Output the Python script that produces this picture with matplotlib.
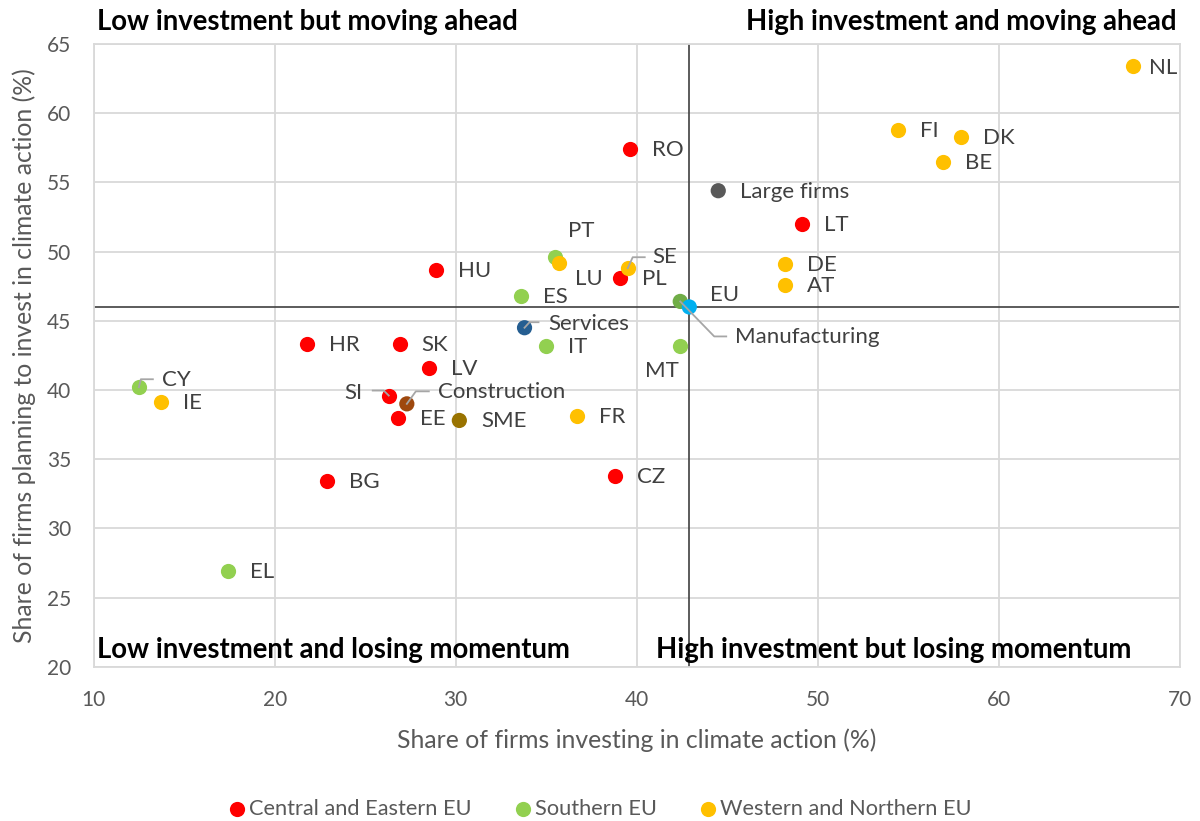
"""
Climate investment quadrant chart: share of firms investing vs. planning to invest
"""
import matplotlib
matplotlib.use('Agg')
from matplotlib import pyplot as plt
from matplotlib.lines import Line2D
from matplotlib.transforms import IdentityTransform

plt.rcParams['font.family'] = ['Lato', 'DejaVu Sans']

# --- data ---
cee_names = ['RO', 'LT', 'PL', 'HU', 'HR', 'SK', 'LV', 'SI', 'EE', 'BG', 'CZ']
cee_x = [39.6, 49.1, 39.1, 28.9, 21.8, 26.9, 28.5, 26.3, 26.8, 22.9, 38.8]
cee_y = [57.4, 52.0, 48.1, 48.7, 43.3, 43.3, 41.6, 39.6, 38.0, 33.4, 33.8]

south_names = ['PT', 'ES', 'IT', 'MT', 'CY', 'EL']
south_x = [35.5, 33.6, 35.0, 42.4, 12.5, 17.4]
south_y = [49.6, 46.8, 43.2, 43.2, 40.2, 26.9]

west_names = ['NL', 'FI', 'DK', 'BE', 'DE', 'AT', 'SE', 'LU', 'FR', 'IE']
west_x = [67.4, 54.4, 57.9, 56.9, 48.2, 48.2, 39.5, 35.7, 36.7, 13.7]
west_y = [63.4, 58.8, 58.3, 56.5, 49.1, 47.6, 48.8, 49.2, 38.1, 39.1]

other_names = ['Large firms', 'Services', 'Construction', 'SME', 'Manufacturing', 'EU']
other_x = [44.5, 33.8, 27.3, 30.2, 42.4, 42.9]
other_y = [54.4, 44.5, 39.0, 37.8, 46.4, 46.0]
other_colors = ['#595959', '#255E91', '#9E480E', '#997300', '#70AD47', '#00B0F0']

eu_x, eu_y = other_x[-1], other_y[-1]

# --- label placement (pixel offsets from the marker, y up) ---
default_off = (22, -1, 'left')
label_off = {
    'SE': (25, 11, 'left'),
    'LU': (16, -16, 'left'),
    'PT': (13, 26, 'left'),
    'Services': (24, 4, 'left'),
    'MT': (-35, -25, 'left'),
    'EU': (21, 12, 'left'),
    'Manufacturing': (55, -36, 'left'),
    'CY': (23, 7, 'left'),
    'SI': (-26, 3, 'right'),
    'Construction': (31, 12, 'left'),
    'NL': (16, -2, 'left'),
}
# leader lines: knee and end, pixel offsets from the marker
leaders = {
    'SE': [(5, 11), (17, 11)],
    'CY': [(2, 8), (14, 8)],
    'SI': [(-5, 5), (-16, 5)],
    'Construction': [(9, 12.5), (22, 12.5)],
    'Services': [(5, 5.5), (14, 5.5)],
    'Manufacturing': [(34, -35), (46, -35)],
}

RED = '#FF0000'
GREEN = '#92D050'
YELLOW = '#FFC000'
GRID = '#D9D9D9'
TXT = '#595959'
LBL = '#404040'

W, H = 1200, 821
fig = plt.figure(figsize=(W / 100, H / 100), dpi=100)
ax = fig.add_axes([0.078, 0.1878, 0.9053, 0.7586])

ax.set_xlim(10, 70)
ax.set_ylim(20, 65)
ax.set_xticks(range(10, 71, 10))
ax.set_yticks(range(20, 66, 5))
ax.grid(color=GRID, lw=1.3, zorder=0)
ax.set_axisbelow(True)
for sp in ax.spines.values():
    sp.set_color(GRID)
    sp.set_linewidth(1.3)
ax.tick_params(length=0, labelcolor=TXT, labelsize=15)
ax.tick_params(axis='x', pad=17)
ax.tick_params(axis='y', pad=16)

ax.axvline(eu_x, color='#404040', lw=1.2, zorder=1)
ax.axhline(eu_y, color='#404040', lw=1.2, zorder=1)

ms = 120
ax.scatter(cee_x, cee_y, s=ms, color=RED, lw=0, zorder=3, label='Central and Eastern EU')
ax.scatter(south_x, south_y, s=ms, color=GREEN, lw=0, zorder=3, label='Southern EU')
ax.scatter(west_x, west_y, s=ms, color=YELLOW, lw=0, zorder=3, label='Western and Northern EU')
ax.scatter(other_x, other_y, s=ms, color=other_colors, lw=0, zorder=3)

all_names = cee_names + south_names + west_names + other_names
all_x = cee_x + south_x + west_x + other_x
all_y = cee_y + south_y + west_y + other_y

for name, x, y in zip(all_names, all_x, all_y):
    dx, dy, ha = label_off.get(name, default_off)
    ax.annotate(name, (x, y), xytext=(dx, dy), textcoords='offset pixels',
                ha=ha, va='center', fontsize=16, color=LBL, zorder=5)

# leader lines drawn in display pixels
for name, pts in leaders.items():
    i = all_names.index(name)
    px, py = ax.transData.transform((all_x[i], all_y[i]))
    xs = [px] + [px + p[0] for p in pts]
    ys = [py] + [py + p[1] for p in pts]
    fig.add_artist(Line2D(xs, ys, transform=IdentityTransform(), color='#A6A6A6', lw=1.3, zorder=4))

# axis titles
fig.text(637 / W, 1 - 740 / H, 'Share of firms investing in climate action (%)',
         fontsize=17.8, color=TXT, ha='center', va='center')
fig.text(24 / W, 1 - 355.5 / H, 'Share of firms planning to invest in climate action (%)',
         fontsize=17.8, color=TXT, ha='center', va='center', rotation=90)

qkw = dict(fontsize=19.8, fontweight='bold', color='black', va='center')
fig.text(97 / W, 1 - 22 / H, 'Low investment but moving ahead', ha='left', **qkw)
fig.text(1177 / W, 1 - 22 / H, 'High investment and moving ahead', ha='right', **qkw)
fig.text(97 / W, 1 - 650 / H, 'Low investment and losing momentum', ha='left', **qkw)
fig.text(656 / W, 1 - 650 / H, 'High investment but losing momentum', ha='left', **qkw)

fig.legend(loc='center', bbox_to_anchor=(0.5, 1 - 809 / H), ncol=3, frameon=False,
           fontsize=15.7, labelcolor=TXT, handletextpad=0.15, columnspacing=1.95,
           scatterpoints=1, handlelength=0.8, borderpad=0)

fig.savefig('out.png', dpi=100)
